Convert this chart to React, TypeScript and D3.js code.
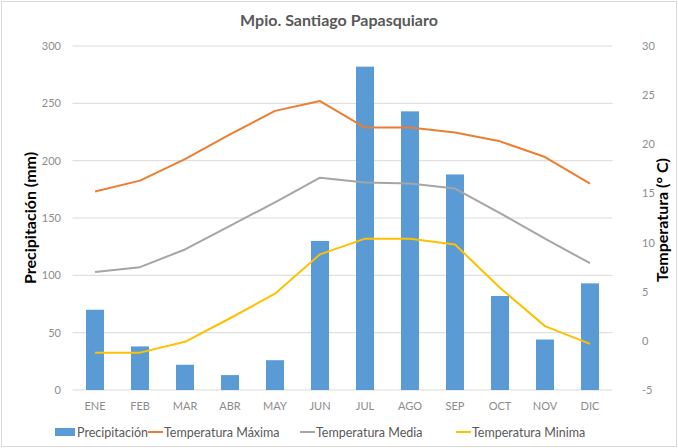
import React from "react";
import * as d3 from "d3";

const months = ["ENE", "FEB", "MAR", "ABR", "MAY", "JUN", "JUL", "AGO", "SEP", "OCT", "NOV", "DIC"];
const precip = [70, 38, 22, 13, 26, 130, 282, 243, 188, 82, 44, 93];
const tMax = [15.2, 16.3, 18.5, 21.0, 23.4, 24.4, 21.7, 21.7, 21.2, 20.3, 18.7, 16.0];
const tMed = [7.0, 7.5, 9.3, 11.7, 14.1, 16.6, 16.1, 16.0, 15.5, 13.0, 10.4, 7.9];
const tMin = [-1.2, -1.2, -0.1, 2.3, 4.8, 8.8, 10.4, 10.4, 9.8, 5.4, 1.5, -0.3];
const leftTicks = [0, 50, 100, 150, 200, 250, 300];
const rightTicks = [-5, 0, 5, 10, 15, 20, 25, 30];

const W = 678, H = 448;
const FONT = "Lato, 'Open Sans', sans-serif";

export default function App() {
  const x = d3.scaleBand().domain(months).range([72.5, 612.5]).paddingInner(0.6).paddingOuter(0.3);
  const xc = (m: string) => (x(m) as number) + x.bandwidth() / 2;
  const yL = d3.scaleLinear().domain([0, 300]).range([390, 46]);
  const yR = d3.scaleLinear().domain([-5, 30]).range([390, 46]);
  const line = (vals: number[]) =>
    d3.line<number>().x((_, i) => xc(months[i])).y((v) => yR(v))(vals) as string;

  const series = [
    { vals: tMax, color: "#ED7D31", label: "Temperatura Máxima", lx: 148 },
    { vals: tMed, color: "#A5A5A5", label: "Temperatura Media", lx: 300 },
    { vals: tMin, color: "#FFC000", label: "Temperatura Minima", lx: 456 },
  ];

  return (
    <svg width={W} height={H} style={{ position: "absolute", left: 0, top: 0, fontFamily: FONT }}>
      <rect x={0} y={0} width={W} height={H} fill="#fff" />
      <rect x={1.5} y={1.5} width={W - 3} height={H - 3} fill="none" stroke="#d9d9d9" />
      <text x={339} y={26} textAnchor="middle" fontSize={16} fill="#595959" fontWeight={700}>
        Mpio. Santiago Papasquiaro
      </text>
      {leftTicks.map((t) => (
        <g key={t}>
          <line x1={72.5} x2={612.5} y1={yL(t)} y2={yL(t)} stroke="#d9d9d9" strokeWidth={1} />
          <text x={61} y={yL(t) + 4} textAnchor="end" fontSize={11} fill="#8c8c8c">{t}</text>
        </g>
      ))}
      {rightTicks.map((t) => (
        <text key={t} x={642} y={yR(t) + 4} textAnchor="start" fontSize={11} fill="#8c8c8c">{t}</text>
      ))}
      {months.map((m, i) => (
        <g key={m}>
          <rect x={x(m)} y={yL(precip[i])} width={x.bandwidth()} height={390 - yL(precip[i])} fill="#5B9BD5" />
          <text x={xc(m)} y={410} textAnchor="middle" fontSize={11} fill="#8c8c8c">{m}</text>
        </g>
      ))}
      {series.map((s) => (
        <path key={s.label} d={line(s.vals)} fill="none" stroke={s.color} strokeWidth={2} strokeLinejoin="round" />
      ))}
      <text transform="translate(36,218) rotate(-90)" textAnchor="middle" fontSize={16} fontWeight={700} fill="#000">
        Precipitación (mm)
      </text>
      <text transform="translate(668,220) rotate(-90)" textAnchor="middle" fontSize={16} fontWeight={700} fill="#000">
        Temperatura (° C)
      </text>
      <g fontSize={12.5} fill="#595959">
        <rect x={55} y={428} width={20} height={8} fill="#5B9BD5" />
        <text x={77} y={437}>Precipitación</text>
        {series.map((s) => (
          <g key={s.label}>
            <line x1={s.lx} x2={s.lx + 15} y1={432} y2={432} stroke={s.color} strokeWidth={2} />
            <text x={s.lx + 16} y={437}>{s.label}</text>
          </g>
        ))}
      </g>
    </svg>
  );
}
